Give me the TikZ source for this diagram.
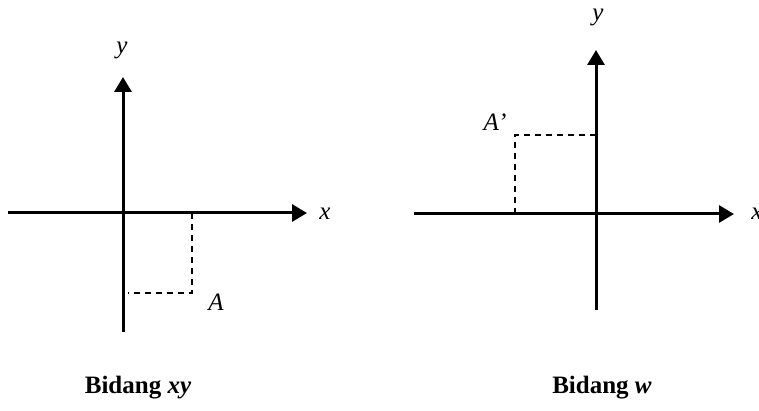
\documentclass[tikz,border=0pt]{standalone}
\usepackage{fontspec}
\setmainfont{Liberation Serif}
\usetikzlibrary{arrows.meta}
\begin{document}
\begin{tikzpicture}[x=1pt,y=-1pt,>={Triangle[length=15pt,width=17pt]},
    axis/.style={line width=3pt,->},
    proj/.style={line width=1.9pt,dash pattern=on 6pt off 5pt},
    lbl/.style={font=\fontsize{25}{28}\selectfont\itshape,inner sep=0pt},
    planetitle/.style={font=\fontsize{25}{28}\selectfont\bfseries,inner sep=0pt}]
  \useasboundingbox (0,0) rectangle (759,411);
  % bidang xy
  \coordinate (xyW) at (8,213);
  \coordinate (xyE) at (307,213);
  \coordinate (xyS) at (123,332);
  \coordinate (xyN) at (123,77);
  \coordinate (xyP) at (192,213);
  \coordinate (xyQ) at (192,293);
  \coordinate (xyR) at (128,293);
  \draw[axis] (xyW) -- (xyE);
  \draw[axis] (xyS) -- (xyN);
  \draw[proj] (xyP) -- (xyQ) -- (xyR);
  \node[lbl] (xyx) at (325,214) {x};
  \node[lbl] (xyy) at (122,50) {y};
  \node[lbl] (xyA) at (216,302) {A};
  \node[planetitle] (xytitle) at (138,388) {Bidang \textit{xy}};
  % bidang w
  \coordinate (wW) at (414,214);
  \coordinate (wE) at (734,214);
  \coordinate (wS) at (596,310);
  \coordinate (wN) at (596,50);
  \coordinate (wP) at (515,214);
  \coordinate (wQ) at (515,135);
  \coordinate (wR) at (596,135);
  \draw[axis] (wW) -- (wE);
  \draw[axis] (wS) -- (wN);
  \draw[proj] (wP) -- (wQ) -- (wR);
  \node[lbl] (wx) at (757,214) {x};
  \node[lbl] (wy) at (598,17) {y};
  \node[lbl] (wA) at (495,122) {A’};
  \node[planetitle] (wtitle) at (602,388) {Bidang \textit{w}};
\end{tikzpicture}
\end{document}
